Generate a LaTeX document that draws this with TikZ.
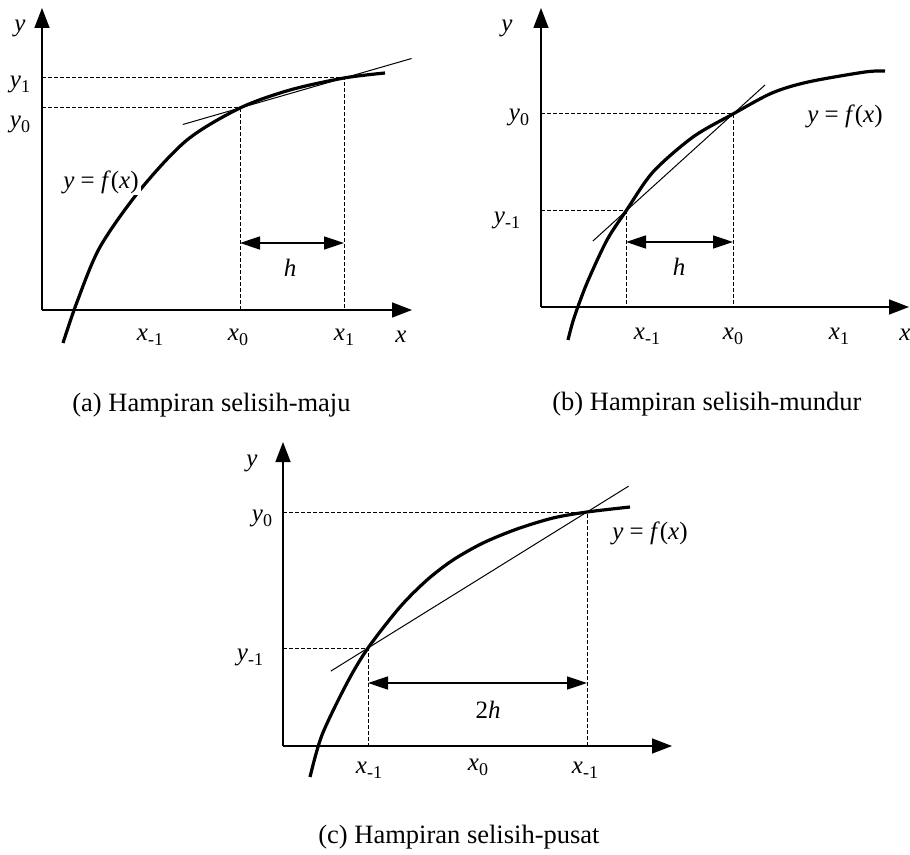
\documentclass[tikz,border=0pt]{standalone}
\usepackage{fontspec}
\setmainfont{Liberation Serif}
\usepackage{tikz}
\usetikzlibrary{arrows.meta, calc}

\newcommand{\pvar}[2]{\textit{#1}\raisebox{-0.45ex}{\fontsize{9}{10}\selectfont #2}}
\newcommand{\fx}{\textit{y} = \textit{f}(\textit{x})}

\begin{document}
\begin{tikzpicture}[x=0.5pt, y=-0.5pt,
		axis/.style={
			line width=0.75pt,
			-{Triangle[length=10pt, width=7.5pt]}
		},
		curve/.style={line width=1.6pt},
		guide/.style={line width=0.5pt, dash pattern=on 2pt off 1pt},
		secant/.style={line width=0.5pt},
		span/.style={
			line width=0.75pt,
			{Triangle[length=10pt, width=6.5pt]}-{Triangle[length=10pt, width=6.5pt]}
		},
		lbl/.style={inner sep=1pt, font=\fontsize{12.5}{14}\selectfont},
		caption/.style={anchor=base west, inner sep=0pt, font=\fontsize{13.25}{16}\selectfont}
		]
		
		\useasboundingbox (0,0) rectangle (910,855);
		
		% (a) forward difference
		\coordinate (a-o) at (42,310);
		\coordinate (a-y) at (42,8);
		\coordinate (a-x) at (412,310);
		\coordinate (a-p0) at (240,108);
		\coordinate (a-p1) at (344,78);
		\coordinate (a-hl) at (240,243);
		\coordinate (a-hr) at (344,243);
		\draw[axis] (a-o) -- (a-y);
		\draw[axis] (a-o) -- (a-x);
		\draw[guide] (a-o |- a-p1) -- (a-p1) -- (a-p1 |- a-o);
		\draw[guide] (a-o |- a-p0) -- (a-p0) -- (a-p0 |- a-o);
		\draw[curve] plot[smooth] coordinates {(63,343) (77,302) (100,247) (140,190) (187,140) (a-p0) (290,90) (a-p1) (385,73)};
		\draw[secant] ($(a-p0)!-0.55!(a-p1)$) -- ($(a-p1)!-0.65!(a-p0)$);
		\draw[span] (a-hl) -- (a-hr);
		\node[lbl] (a-h) at (290,268) {\textit{h}};
		\node[lbl, fill=white] (a-f) at (101,182) {\fx};
		\node[lbl] (a-ylbl) at (20,28) {\textit{y}};
		\node[lbl] (a-y1) at (20,84) {\pvar{y}{1}};
		\node[lbl] (a-y0) at (20,124) {\pvar{y}{0}};
		\node[lbl] (a-xm) at (150,337) {\pvar{x}{-1}};
		\node[lbl] (a-x0) at (238,337) {\pvar{x}{0}};
		\node[lbl] (a-x1) at (344,337) {\pvar{x}{1}};
		\node[lbl] (a-xlbl) at (401,337) {\textit{x}};
		\node[caption] (a-cap) at (72,412) {(a) Hampiran selisih-maju};
		
		% (b) backward difference
		\coordinate (b-o) at (541,307);
		\coordinate (b-y) at (541,8);
		\coordinate (b-x) at (909,307);
		\coordinate (b-pm) at (626,211);
		\coordinate (b-p0) at (733,114);
		\coordinate (b-hl) at (626,242);
		\coordinate (b-hr) at (733,242);
		\draw[axis] (b-o) -- (b-y);
		\draw[axis] (b-o) -- (b-x);
		\draw[guide] (b-o |- b-p0) -- (b-p0) -- (b-p0 |- b-o);
		\draw[guide] (b-o |- b-pm) -- (b-pm) -- (b-pm |- b-o);
		\draw[curve] plot[smooth] coordinates {(568,340) (574,318) (587,283) (607,240) (b-pm) (653,172) (693,137) (b-p0) (772,93) (808,82) (865,72) (885,71)};
		\draw[secant] ($(b-pm)!-0.31!(b-p0)$) -- ($(b-p0)!-0.3!(b-pm)$);
		\draw[span] (b-hl) -- (b-hr);
		\node[lbl] (b-h) at (679,267) {\textit{h}};
		\node[lbl] (b-f) at (845,116) {\fx};
		\node[lbl] (b-ylbl) at (507,28) {\textit{y}};
		\node[lbl] (b-y0) at (519,117) {\pvar{y}{0}};
		\node[lbl] (b-ym) at (507,220) {\pvar{y}{-1}};
		\node[lbl] (b-xm) at (647,336) {\pvar{x}{-1}};
		\node[lbl] (b-x0) at (733,336) {\pvar{x}{0}};
		\node[lbl] (b-x1) at (839,336) {\pvar{x}{1}};
		\node[lbl] (b-xlbl) at (905,335) {\textit{x}};
		\node[caption] (b-cap) at (552,411) {(b) Hampiran selisih-mundur};
		
		% (c) central difference
		\coordinate (c-o) at (283,746);
		\coordinate (c-y) at (283,442);
		\coordinate (c-x) at (672,746);
		\coordinate (c-pm) at (368,648);
		\coordinate (c-p0) at (587,512);
		\coordinate (c-hl) at (368,683);
		\coordinate (c-hr) at (587,683);
		\draw[axis] (c-o) -- (c-y);
		\draw[axis] (c-o) -- (c-x);
		\draw[guide] (c-o |- c-p0) -- (c-p0) -- (c-p0 |- c-o);
		\draw[guide] (c-o |- c-pm) -- (c-pm) -- (c-pm |- c-o);
		\draw[curve] plot[smooth] coordinates {(310,777) (322,735) (347,683) (c-pm) (400,607) (427,580) (453,560) (483,543) (517,529) (553,518) (c-p0) (630,507)};
		\draw[secant] ($(c-pm)!-0.17!(c-p0)$) -- ($(c-p0)!-0.19!(c-pm)$);
		\draw[span] (c-hl) -- (c-hr);
		\node[lbl] (c-h) at (488,710) {2\textit{h}};
		\node[lbl] (c-f) at (650,533) {\fx};
		\node[lbl] (c-ylbl) at (252,463) {\textit{y}};
		\node[lbl] (c-y0) at (262,518) {\pvar{y}{0}};
		\node[lbl] (c-ym) at (250,657) {\pvar{y}{-1}};
		\node[lbl] (c-xm) at (369,770) {\pvar{x}{-1}};
		\node[lbl] (c-x0) at (478,767) {\pvar{x}{0}};
		\node[lbl] (c-xr) at (585,770) {\pvar{x}{-1}};
		\node[caption] (c-cap) at (318,843) {(c) Hampiran selisih-pusat};
		
	\end{tikzpicture}
\end{document}
